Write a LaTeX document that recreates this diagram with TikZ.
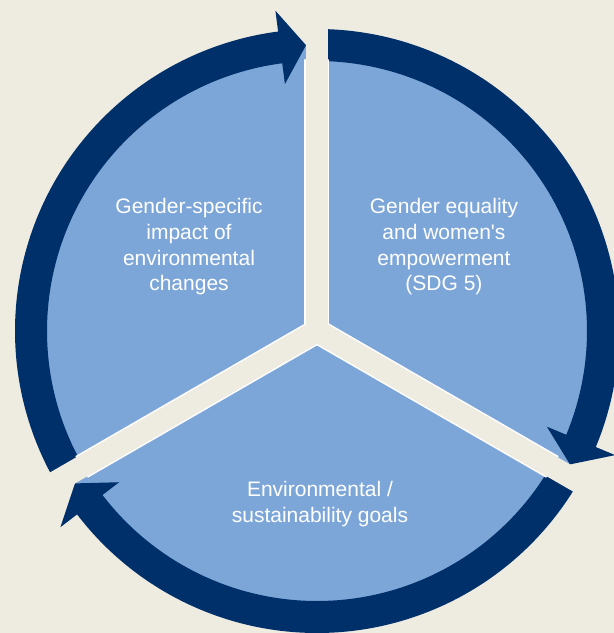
\documentclass[tikz,border=0pt]{standalone}
\usepackage{fontspec}
\setmainfont{Liberation Sans}
\definecolor{backdrop}{RGB}{238,235,225}
\definecolor{wedgeblue}{RGB}{125,166,216}
\definecolor{navy}{RGB}{0,48,106}

\begin{document}
\begin{tikzpicture}[x=1pt,y=1pt,
  band/.style={navy, line width=32pt},
  segtext/.style={text=white, align=center, font=\fontsize{21}{25.7}\selectfont}]
\useasboundingbox (-317,-302) rectangle (297,331);
\fill[backdrop] (-317,-302) rectangle (297,331);
\fill[wedgeblue] (0,0) circle (286);
% the three arrows round the circle
\draw[band] (210:286) arc[start angle=210, end angle=96.4, radius=286];
\fill[navy] (92.2:286) -- (97.4:323) -- (97.4:249) -- cycle;
\draw[band] (90:286) arc[start angle=90, end angle=-23.6, radius=286];
\fill[navy] (-27.8:286) -- (-22.6:323) -- (-22.6:249) -- cycle;
\draw[band] (-30:286) arc[start angle=-30, end angle=-143.6, radius=286];
\fill[navy] (-147.8:286) -- (-142.6:323) -- (-142.6:249) -- cycle;
% gaps between the segments
\begin{scope}
\clip (0,0) circle (272);
\draw[white, line width=25pt] (0,0) -- (90:320);
\draw[white, line width=25pt] (0,0) -- (210:320);
\draw[white, line width=25pt] (0,0) -- (330:320);
\end{scope}
\draw[backdrop, line width=22pt] (0,0) -- (90:340);
\draw[backdrop, line width=22pt] (0,0) -- (210:340);
\draw[backdrop, line width=22pt] (0,0) -- (330:340);
\node[segtext] (impact) at (-128,84) {Gender-specific\\impact of\\environmental\\changes};
\node[segtext] (equality) at (127,84) {Gender equality\\and women\textquotesingle s\\empowerment\\(SDG 5)};
\node[segtext] (goals) at (3,-173) {Environmental /\\sustainability goals};
\end{tikzpicture}
\end{document}
